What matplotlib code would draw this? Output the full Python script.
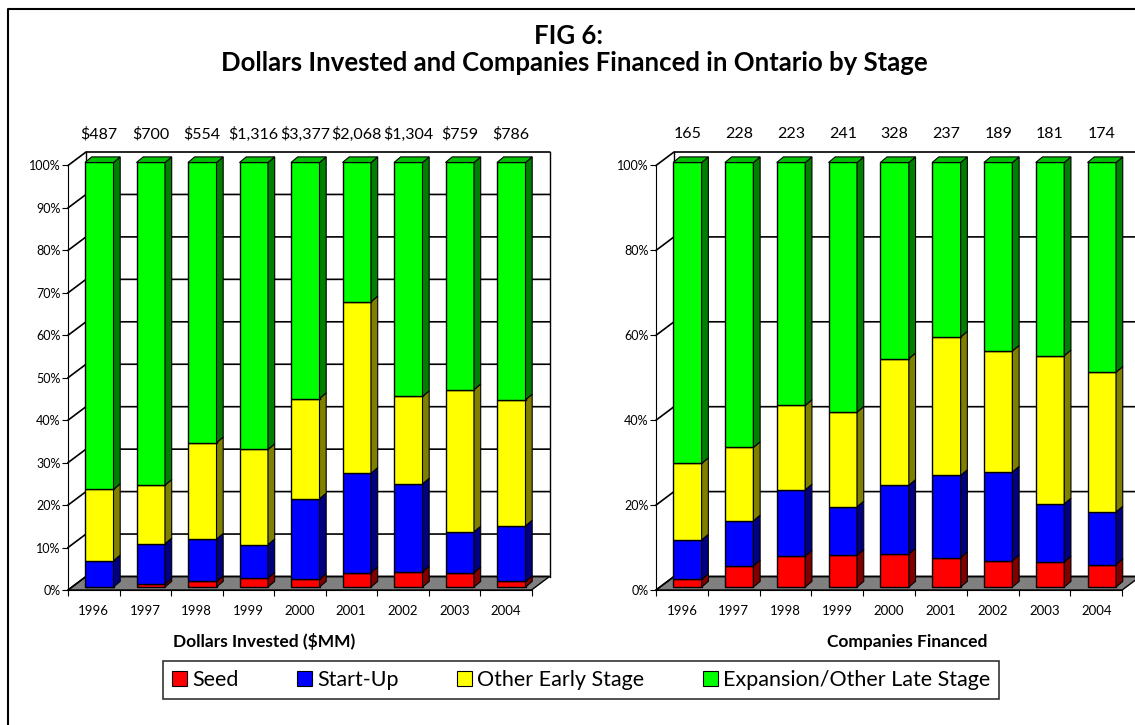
import matplotlib
matplotlib.use("Agg")
import matplotlib.pyplot as plt
from matplotlib.patches import Polygon, Patch
from matplotlib.lines import Line2D
import numpy as np

plt.rcParams['font.family'] = ['Lato', 'DejaVu Sans']

# data (percent share of each stage)
years = ["1996", "1997", "1998", "1999", "2000", "2001", "2002", "2003", "2004"]
stages = ["Seed", "Start-Up", "Other Early Stage", "Expansion/Other Late Stage"]

dollars_total = ["$487", "$700", "$554", "$1,316", "$3,377", "$2,068", "$1,304", "$759", "$786"]
dollars_seed = [0.0, 0.7, 1.3, 2.1, 1.8, 3.4, 3.6, 3.4, 1.3]
dollars_startup = [6.2, 9.5, 10.0, 7.9, 19.0, 23.4, 20.7, 9.6, 13.1]
dollars_early = [16.8, 13.8, 22.7, 22.4, 23.6, 40.4, 20.6, 33.5, 29.7]
dollars_late = [77.0, 76.0, 66.0, 67.6, 55.6, 32.8, 55.1, 53.5, 55.9]

companies_total = ["165", "228", "223", "241", "328", "237", "189", "181", "174"]
companies_seed = [1.8, 5.0, 7.3, 7.5, 7.8, 6.9, 6.2, 5.9, 5.3]
companies_startup = [9.3, 10.6, 15.6, 11.4, 16.2, 19.4, 20.9, 13.7, 12.4]
companies_early = [18.0, 17.3, 19.9, 22.3, 29.8, 32.6, 28.5, 34.9, 32.9]
companies_late = [70.9, 67.1, 57.2, 58.8, 46.2, 41.1, 44.4, 45.5, 49.4]

front = ["#ff0000", "#0000ff", "#ffff00", "#00ff00"]
side = ["#800000", "#000080", "#808000", "#008000"]
cap = "#00c000"

W, H = 1135, 725
Y0 = 590      # pixel row of 0%
PCT = 4.245   # pixels per percent

fig = plt.figure(figsize=(W / 100, H / 100), dpi=100)


def chart(x0px, catpx, shares, totals, yticks, subtitle, sub_x):
    n = len(years)
    xlim = (-0.9, n + 0.6)
    ylim = (-5, 110)
    ax = fig.add_axes([(x0px + xlim[0] * catpx) / W,
                       (H - Y0 + ylim[0] * PCT) / H,
                       (xlim[1] - xlim[0]) * catpx / W,
                       (ylim[1] - ylim[0]) * PCT / H])
    ax.set_facecolor("none")

    # 3d offsets
    wdx, wdy = 18 / catpx, 13.5 / PCT
    bdx, bdy = 6.7 / catpx, 5.6 / PCT
    bw = 28.5 / catpx
    ox, oy = 5.5 / catpx, 3 / PCT

    # floor and walls
    ax.add_patch(Polygon([(0, 0), (n, 0), (n + wdx, wdy), (wdx, wdy)],
                         closed=True, fc="#808080", ec="black", lw=1, zorder=1))
    for t in yticks:
        ax.plot([0, wdx, n + wdx], [t, t + wdy, t + wdy], color="black", lw=1.2, zorder=1)
    ax.plot([wdx, wdx], [wdy, 100 + wdy], color="black", lw=1, zorder=1)
    ax.plot([n + wdx, n + wdx], [wdy, 100 + wdy], color="black", lw=1, zorder=1)

    # stacked bars
    x = np.arange(n) + 0.5 - bw / 2 + ox
    bottom = np.zeros(n)
    for k, vals in enumerate(shares):
        vals = np.asarray(vals, dtype=float)
        ax.bar(x, vals, width=bw, bottom=bottom + oy, align="edge",
               color=front[k], edgecolor="black", lw=1, zorder=3)
        for i in range(n):
            if vals[i] <= 0:
                continue
            xr = x[i] + bw
            b = bottom[i] + oy
            t = b + vals[i]
            ax.add_patch(Polygon([(xr, b), (xr + bdx, b + bdy), (xr + bdx, t + bdy), (xr, t)],
                                 closed=True, fc=side[k], ec="black", lw=0.8, zorder=3))
        bottom += vals
    for i in range(n):
        t = bottom[i] + oy
        ax.add_patch(Polygon([(x[i], t), (x[i] + bw, t), (x[i] + bw + bdx, t + bdy), (x[i] + bdx, t + bdy)],
                             closed=True, fc=cap, ec="black", lw=0.8, zorder=3))
        ax.text(x[i] + bw / 2, 107.4, totals[i], ha="center", va="center", fontsize=11.5)

    # axes
    for s in ["top", "right"]:
        ax.spines[s].set_visible(False)
    ax.spines["left"].set_position(("data", 0))
    ax.spines["left"].set_bounds(0, 100)
    ax.spines["bottom"].set_position(("data", 0))
    ax.spines["bottom"].set_bounds(0, n)
    ax.set_yticks(yticks)
    ax.set_yticklabels([f"{t}%" for t in yticks])
    ax.set_xticks(range(n + 1))
    ax.set_xticklabels([])
    ax.set_xticks(np.arange(n) + 0.5, minor=True)
    ax.set_xticklabels(years, minor=True)
    ax.tick_params(axis="y", direction="out", length=4.3, labelsize=9, pad=1)
    ax.tick_params(axis="x", which="major", direction="out", length=4.3)
    ax.tick_params(axis="x", which="minor", length=0, labelsize=9.5, pad=10.5)
    ax.set_xlim(xlim)
    ax.set_ylim(ylim)

    fig.text(sub_x / W, 1 - 642 / H, subtitle, ha="center", va="center",
             fontsize=12.5, fontweight="bold")
    return ax


chart(68, 51.5, [dollars_seed, dollars_startup, dollars_early, dollars_late],
      dollars_total, list(range(0, 101, 10)), "Dollars Invested ($MM)", 264)
chart(656, 51.8, [companies_seed, companies_startup, companies_early, companies_late],
      companies_total, list(range(0, 101, 20)), "Companies Financed", 907)

fig.text(569 / W, 1 - 36 / H, "FIG 6:", ha="center", va="center", fontsize=18.5, fontweight="bold")
fig.text(574 / W, 1 - 63 / H, "Dollars Invested and Companies Financed in Ontario by Stage",
         ha="center", va="center", fontsize=18.5, fontweight="bold")

handles = [Patch(fc=front[k], ec="black", lw=0.8, label=stages[k]) for k in range(4)]
leg = fig.legend(handles=handles, loc="center", bbox_to_anchor=(581 / W, 1 - 680 / H), ncol=4,
                 fontsize=15.5, frameon=True, fancybox=False, edgecolor="black",
                 handlelength=0.7, handleheight=0.7, handletextpad=0.25,
                 columnspacing=2.7, borderpad=0.42)
leg.get_frame().set_linewidth(1.2)

# outer border (left and top edges visible)
fig.add_artist(Line2D([7.5 / W, 7.5 / W, 1], [0, 1 - 9 / H, 1 - 9 / H], color="black", lw=1.5))

fig.savefig("out.png", dpi=100)
